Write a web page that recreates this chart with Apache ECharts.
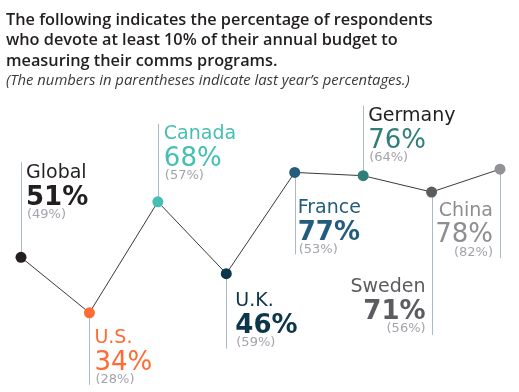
<!DOCTYPE html>
<html>
<head>
<meta charset="utf-8">
<script src="https://cdn.jsdelivr.net/npm/echarts@6/dist/echarts.min.js"></script>
<style>
html,body{margin:0;padding:0;background:#fff;}
#chart{width:519px;height:392px;}
</style>
</head>
<body>
<div id="chart"></div>
<script>
// ---- data ----
const categories = ['Global', 'U.S.', 'Canada', 'U.K.', 'France', 'Germany', 'Sweden', 'China'];
const thisYear = [51, 34, 68, 46, 77, 76, 71, 78];
const lastYear = [49, 28, 57, 59, 53, 64, 56, 82];
const titleText = 'The following indicates the percentage of respondents\nwho devote at least 10% of their annual budget to\nmeasuring their comms programs.';
const noteText = '(The numbers in parentheses indicate last year\u2019s percentages.)';

// ---- styles ----
const dotColors  = ['#231f20', '#ff6b35', '#45bfb4', '#0c3649', '#235c7c', '#2f7f78', '#5b5b60', '#929296'];
const nameColors = ['#231f20', '#ff6b35', '#45bfb4', '#0c3649', '#235c7c', '#231f20', '#5b5b60', '#8e8e92'];
const pctColors  = ['#231f20', '#ff6b35', '#45bfb4', '#0c3649', '#235c7c', '#2f7f78', '#5b5b60', '#8e8e92'];
const pctWeights = [600, 500, 500, 600, 600, 500, 600, 500];
// leader line length (px, + is down), text x offset, text alignment, text cap-top offset from point
const layout = [
  {line: -95, dx: 5,  align: 'left',  top: -95},
  {line: 72,  dx: 5,  align: 'left',  top: 15},
  {line: -78, dx: 6,  align: 'left',  top: -78},
  {line: 75,  dx: 9,  align: 'left',  top: 17},
  {line: 82,  dx: 3,  align: 'left',  top: 25},
  {line: -70, dx: 5,  align: 'left',  top: -70},
  {line: 143, dx: -6, align: 'right', top: 85},
  {line: 89,  dx: -7, align: 'right', top: 31}
];
const FONT = 'DejaVu Sans';

const chart = echarts.init(document.getElementById('chart'), null, {renderer: 'canvas'});

function renderLabel(params, api) {
  const i = params.dataIndex;
  const p = api.coord([api.value(0), api.value(1)]);
  const L = layout[i];
  const x = Math.round(p[0]) + 0.5;
  const capTop = p[1] + L.top;
  const tx = p[0] + L.dx;
  return {
    type: 'group',
    children: [
      {type: 'line', shape: {x1: x, y1: p[1], x2: x, y2: p[1] + L.line},
       style: {stroke: '#a9b9c5', lineWidth: 1}},
      {type: 'text', style: {text: categories[i], x: tx, y: capTop + 1, align: L.align, verticalAlign: 'top',
        font: '500 19px "' + FONT + '"', fill: nameColors[i]}},
      {type: 'text', style: {text: api.value(1) + '%', x: tx, y: capTop + 22 + 0.5, align: L.align, verticalAlign: 'top',
        font: pctWeights[i] + ' 26px "' + FONT + '"', fill: pctColors[i]}},
      {type: 'text', style: {text: '(' + api.value(2) + '%)', x: tx + (L.align === 'left' ? 1 : 0), y: capTop + 46 - 0.5, align: L.align, verticalAlign: 'top',
        font: '400 13px "' + FONT + '"', fill: '#a3a3ab'}}
    ]
  };
}

chart.setOption({
  animation: false,
  backgroundColor: '#ffffff',
  title: [
    {text: titleText, left: 6, top: 10, padding: 0,
     textStyle: {fontFamily: 'Open Sans', fontWeight: 600, fontSize: 16.3, lineHeight: 20.5, color: '#231f20'}},
    {text: noteText, left: 6, top: 73, padding: 0,
     textStyle: {fontFamily: 'Open Sans', fontStyle: 'italic', fontWeight: 400, fontSize: 14.8, color: '#3a3a3a'}}
  ],
  grid: {left: 21, right: 19, top: 130, bottom: 33.5, containLabel: false},
  xAxis: {type: 'category', data: categories, boundaryGap: false, show: false},
  yAxis: {type: 'value', min: 20, max: 90, show: false},
  series: [
    {
      type: 'custom',
      coordinateSystem: 'cartesian2d',
      z: 1,
      clip: false,
      encode: {x: 0, y: 1},
      data: categories.map((c, i) => [i, thisYear[i], lastYear[i]]),
      renderItem: renderLabel
    },
    {
      type: 'line',
      z: 3,
      data: thisYear.map((v, i) => ({value: v, itemStyle: {color: dotColors[i]}})),
      symbol: 'circle',
      symbolSize: 11,
      showSymbol: true,
      lineStyle: {color: '#3a3a3a', width: 1},
      itemStyle: {borderWidth: 0},
      emphasis: {disabled: true},
      silent: true
    }
  ]
});
</script>
</body>
</html>
